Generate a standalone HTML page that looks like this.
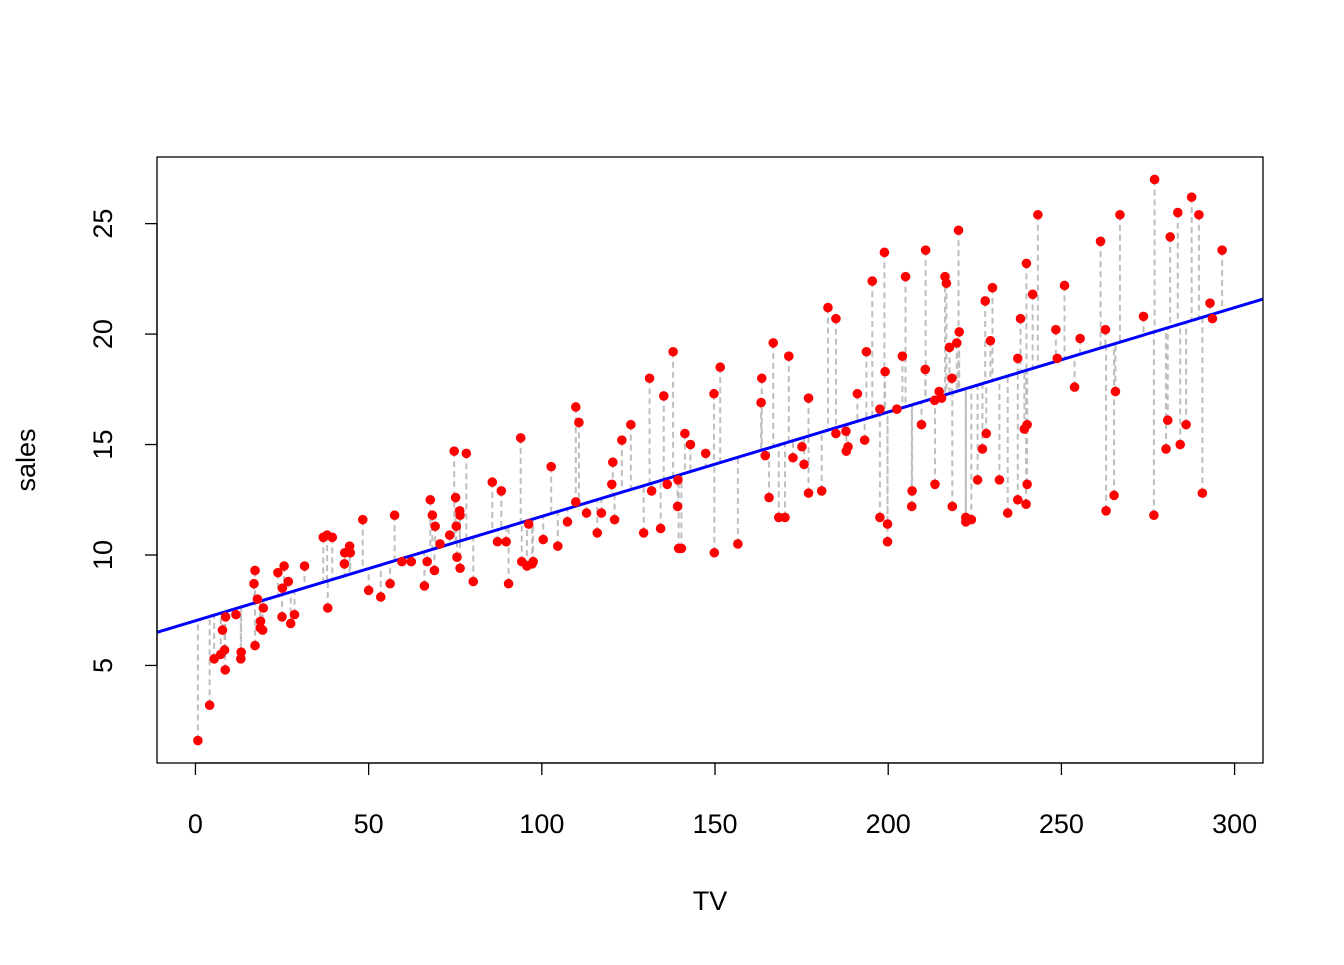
<!DOCTYPE html>
<html><head><meta charset="utf-8"><style>
html,body{margin:0;padding:0;background:#fff;}
svg text{font-family:"Liberation Sans",Arial,sans-serif;}
</style></head><body>
<svg id="chart" width="1344" height="960" xmlns="http://www.w3.org/2000/svg"></svg>
<script>
const tvValues=[230.1,44.5,17.2,151.5,180.8,8.7,57.5,120.2,8.6,199.8,66.1,214.7,23.8,97.5,204.1,195.4,67.8,281.4,69.2,147.3,218.4,237.4,13.2,228.3,62.3,262.9,142.9,240.1,248.8,70.6,292.9,112.9,97.2,265.6,95.7,290.7,266.9,74.7,43.1,228,202.5,177,293.6,206.9,25.1,175.1,89.7,239.9,227.2,66.9,199.8,100.4,216.4,182.6,262.7,198.9,7.3,136.2,210.8,210.7,53.5,261.3,239.3,102.7,131.1,69,31.5,139.3,237.4,216.8,199.1,109.8,26.8,129.4,213.4,16.9,27.5,120.5,5.4,116,76.4,239.8,75.3,68.4,213.5,193.2,76.3,110.7,88.3,109.8,134.3,28.6,217.7,250.9,107.4,163.3,197.6,184.9,289.7,135.2,222.4,296.4,280.2,187.9,238.2,137.9,25,90.4,13.1,255.4,225.8,241.7,175.7,209.6,78.2,75.1,139.2,76.4,125.7,19.4,141.3,18.8,224,123.1,229.5,87.2,7.8,80.2,220.3,59.6,0.7,265.2,8.4,219.8,36.9,48.3,25.6,273.7,43,184.9,73.4,193.7,220.5,104.6,96.2,140.3,240.1,243.2,38,44.7,280.7,121,197.6,171.3,187.8,4.1,93.9,149.8,11.7,131.7,172.5,85.7,188.4,163.5,117.2,234.5,17.9,206.8,215.4,284.3,50,164.5,19.6,168.4,222.4,276.9,248.4,170.2,276.7,165.6,156.6,218.5,56.2,287.6,253.8,205,139.5,191.1,286,18.7,39.5,75.5,17.2,166.8,149.7,38.2,94.2,177,283.6,232.1];
const salesValues=[22.1,10.4,9.3,18.5,12.9,7.2,11.8,13.2,4.8,10.6,8.6,17.4,9.2,9.7,19,22.4,12.5,24.4,11.3,14.6,18,12.5,5.6,15.5,9.7,12,15,15.9,18.9,10.5,21.4,11.9,9.6,17.4,9.5,12.8,25.4,14.7,10.1,21.5,16.6,17.1,20.7,12.9,8.5,14.9,10.6,23.2,14.8,9.7,11.4,10.7,22.6,21.2,20.2,23.7,5.5,13.2,23.8,18.4,8.1,24.2,15.7,14,18,9.3,9.5,13.4,18.9,22.3,18.3,12.4,8.8,11,17,8.7,6.9,14.2,5.3,11,11.8,12.3,11.3,11.8,13.2,15.2,12,16,12.9,16.7,11.2,7.3,19.4,22.2,11.5,16.9,11.7,15.5,25.4,17.2,11.7,23.8,14.8,14.7,20.7,19.2,7.2,8.7,5.3,19.8,13.4,21.8,14.1,15.9,14.6,12.6,12.2,9.4,15.9,6.6,15.5,7,11.6,15.2,19.7,10.6,6.6,8.8,24.7,9.7,1.6,12.7,5.7,19.6,10.8,11.6,9.5,20.8,9.6,20.7,10.9,19.2,20.1,10.4,11.4,10.3,13.2,25.4,10.9,10.1,16.1,11.6,16.6,19,15.6,3.2,15.3,10.1,7.3,12.9,14.4,13.3,14.9,18,11.9,11.9,8,12.2,17.1,15,8.4,14.5,7.6,11.7,11.5,27,20.2,11.7,11.8,12.6,10.5,12.2,8.7,26.2,17.6,22.6,10.3,17.3,15.9,6.7,10.8,9.9,5.9,19.6,17.3,7.6,9.7,12.8,25.5,13.4];
const xTicks=[0,50,100,150,200,250,300];
const yTicks=[5,10,15,20,25];

const NS="http://www.w3.org/2000/svg";
const svg=document.getElementById('chart');
const L=157,R=1263,T=157,B=763;
const xMin=-11.1,xMax=308.2,yMin=0.584,yMax=28.016;
const sx=v=>L+(v-xMin)/(xMax-xMin)*(R-L);
const sy=v=>B-(v-yMin)/(yMax-yMin)*(B-T);
function mk(tag,attrs,parent){const e=document.createElementNS(NS,tag);for(const k in attrs)e.setAttribute(k,attrs[k]);(parent||svg).appendChild(e);return e;}

// least squares fit
const n=tvValues.length;
let mx=0,my=0;for(let i=0;i<n;i++){mx+=tvValues[i];my+=salesValues[i];}mx/=n;my/=n;
let sxy=0,sxx=0;for(let i=0;i<n;i++){sxy+=(tvValues[i]-mx)*(salesValues[i]-my);sxx+=(tvValues[i]-mx)**2;}
const slope=sxy/sxx,intercept=my-slope*mx;
const fit=x=>intercept+slope*x;

const defs=mk('defs',{});
const cp=mk('clipPath',{id:'plotclip'},defs);
mk('rect',{x:L,y:T,width:R-L,height:B-T},cp);

// residual segments
const resG=mk('g',{'clip-path':'url(#plotclip)'});


for(let i=0;i<n;i++){
  const l=mk('line',{x1:sx(tvValues[i]),y1:sy(salesValues[i]),x2:sx(tvValues[i]),y2:sy(fit(tvValues[i])),stroke:'#bebebe','stroke-width':2,'stroke-dasharray':'6,4'},resG);
  
  
}
// regression line
const reg=mk('line',{x1:sx(xMin),y1:sy(fit(xMin)),x2:sx(xMax),y2:sy(fit(xMax)),stroke:'#0000ff','stroke-width':3,'clip-path':'url(#plotclip)'});


// points
const ptG=mk('g',{});


for(let i=0;i<n;i++){
  const c=mk('circle',{cx:sx(tvValues[i]),cy:sy(salesValues[i]),r:4.3,fill:'#ff0000',stroke:'#ff0000','stroke-width':1},ptG);
  
  
}
// box
const box=mk('rect',{x:L,y:T,width:R-L,height:B-T,fill:'none',stroke:'#000','stroke-width':1.3});


// x axis
const xa=mk('g',{});


mk('line',{x1:sx(xTicks[0]),y1:B,x2:sx(xTicks[xTicks.length-1]),y2:B,stroke:'#000','stroke-width':1.3},xa);
xTicks.forEach(t=>{
  mk('line',{x1:sx(t),y1:B,x2:sx(t),y2:B+12,stroke:'#000','stroke-width':1.3},xa);
  const tx=mk('text',{x:sx(t),y:833,'font-size':27,'text-anchor':'middle'},xa);
  tx.textContent=t;
  
  
});
// y axis
const ya=mk('g',{});


mk('line',{x1:L,y1:sy(yTicks[0]),x2:L,y2:sy(yTicks[yTicks.length-1]),stroke:'#000','stroke-width':1.3},ya);
yTicks.forEach(t=>{
  mk('line',{x1:L-12,y1:sy(t),x2:L,y2:sy(t),stroke:'#000','stroke-width':1.3},ya);
  const tx=mk('text',{x:112,y:sy(t),'font-size':27,'text-anchor':'middle',transform:`rotate(-90 112 ${sy(t)})`},ya);
  tx.textContent=t;
  
  
});
const xt=mk('text',{x:710,y:910,'font-size':27,'text-anchor':'middle'});
xt.textContent='TV';


const yt=mk('text',{x:35,y:460,'font-size':27,'text-anchor':'middle',transform:'rotate(-90 35 460)'});
yt.textContent='sales';


</script>
</body></html>
